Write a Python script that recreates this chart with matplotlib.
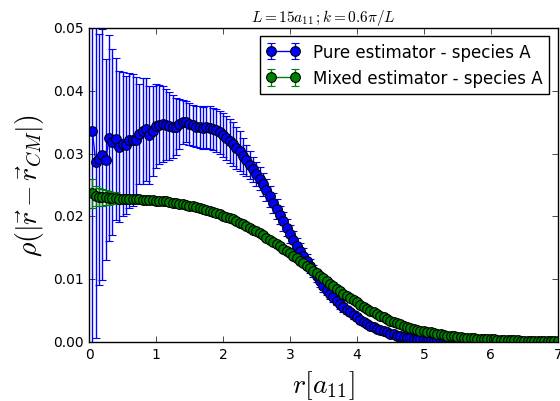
import matplotlib
matplotlib.use("Agg")
import matplotlib.pyplot as plt

plt.style.use("classic")

r = [0.05, 0.10, 0.15, 0.20, 0.25, 0.30, 0.35, 0.40, 0.45, 0.50,
     0.55, 0.60, 0.65, 0.70, 0.75, 0.80, 0.85, 0.90, 0.95, 1.00,
     1.05, 1.10, 1.15, 1.20, 1.25, 1.30, 1.35, 1.40, 1.45, 1.50,
     1.55, 1.60, 1.65, 1.70, 1.75, 1.80, 1.85, 1.90, 1.95, 2.00,
     2.05, 2.10, 2.15, 2.20, 2.25, 2.30, 2.35, 2.40, 2.45, 2.50,
     2.55, 2.60, 2.65, 2.70, 2.75, 2.80, 2.85, 2.90, 2.95, 3.00,
     3.05, 3.10, 3.15, 3.20, 3.25, 3.30, 3.35, 3.40, 3.45, 3.50,
     3.55, 3.60, 3.65, 3.70, 3.75, 3.80, 3.85, 3.90, 3.95, 4.00,
     4.05, 4.10, 4.15, 4.20, 4.25, 4.30, 4.35, 4.40, 4.45, 4.50,
     4.55, 4.60, 4.65, 4.70, 4.75, 4.80, 4.85, 4.90, 4.95, 5.00,
     5.05, 5.10, 5.15, 5.20, 5.25, 5.30, 5.35, 5.40, 5.45, 5.50,
     5.55, 5.60, 5.65, 5.70, 5.75, 5.80, 5.85, 5.90, 5.95, 6.00,
     6.05, 6.10, 6.15, 6.20, 6.25, 6.30, 6.35, 6.40, 6.45, 6.50,
     6.55, 6.60, 6.65, 6.70, 6.75, 6.80, 6.85, 6.90, 6.95, 7.00]

pure = [0.0336, 0.0286, 0.0291, 0.0298, 0.0290, 0.0325, 0.0318, 0.0323, 0.0311, 0.0315,
        0.0314, 0.0321, 0.0322, 0.0322, 0.0331, 0.0336, 0.0339, 0.0330, 0.0336, 0.0344,
        0.0346, 0.0347, 0.0346, 0.0344, 0.0343, 0.0343, 0.0347, 0.0350, 0.0351, 0.0347,
        0.0345, 0.0343, 0.0342, 0.0341, 0.0342, 0.0341, 0.0339, 0.0337, 0.0334, 0.0330,
        0.0325, 0.0320, 0.0315, 0.0309, 0.0304, 0.0296, 0.0289, 0.0282, 0.0275, 0.0268,
        0.0260, 0.0251, 0.0242, 0.0232, 0.0221, 0.0211, 0.0202, 0.0192, 0.0182, 0.0172,
        0.0163, 0.0153, 0.0145, 0.0137, 0.0129, 0.0121, 0.0113, 0.0105, 0.0097, 0.0089,
        0.0083, 0.0077, 0.0071, 0.0065, 0.0060, 0.0055, 0.0051, 0.0047, 0.0043, 0.0039,
        0.0035, 0.0032, 0.0029, 0.0026, 0.0023, 0.0021, 0.0019, 0.0017, 0.0015, 0.0013,
        0.0012, 0.0010, 0.0009, 0.0008, 0.0007, 0.0006, 0.0005, 0.0005, 0.0004, 0.0004,
        0.0003, 0.0003, 0.0002, 0.0002, 0.0002, 0.0001, 0.0001, 0.0001, 0.0001, 0.0001,
        0.0001, 0.0001, 0.0001, 0.0000, 0.0000, 0.0000, 0.0000, 0.0000, 0.0000, 0.0000,
        0.0000, 0.0000, 0.0000, 0.0000, 0.0000, 0.0000, 0.0000, 0.0000, 0.0000, 0.0000,
        0.0000, 0.0000, 0.0000, 0.0000, 0.0000, 0.0000, 0.0000, 0.0000, 0.0000, 0.0000]

pure_err = [0.0400, 0.0280, 0.0200, 0.0200, 0.0160, 0.0164, 0.0148, 0.0129, 0.0120, 0.0115,
            0.0110, 0.0108, 0.0105, 0.0100, 0.0080, 0.0085, 0.0082, 0.0078, 0.0072, 0.0067,
            0.0063, 0.0060, 0.0057, 0.0054, 0.0050, 0.0046, 0.0040, 0.0035, 0.0033, 0.0033,
            0.0033, 0.0033, 0.0033, 0.0033, 0.0033, 0.0034, 0.0034, 0.0034, 0.0034, 0.0035,
            0.0035, 0.0035, 0.0035, 0.0034, 0.0032, 0.0028, 0.0025, 0.0022, 0.0020, 0.0019,
            0.0018, 0.0018, 0.0017, 0.0017, 0.0016, 0.0016, 0.0015, 0.0015, 0.0014, 0.0014,
            0.0013, 0.0013, 0.0012, 0.0012, 0.0011, 0.0011, 0.0010, 0.0010, 0.0009, 0.0009,
            0.0008, 0.0008, 0.0008, 0.0007, 0.0007, 0.0007, 0.0006, 0.0006, 0.0006, 0.0005,
            0.0005, 0.0005, 0.0004, 0.0004, 0.0004, 0.0004, 0.0003, 0.0003, 0.0003, 0.0003,
            0.0002, 0.0002, 0.0002, 0.0002, 0.0002, 0.0002, 0.0001, 0.0001, 0.0001, 0.0001,
            0.0001, 0.0001, 0.0001, 0.0001, 0.0001, 0.0001, 0.0001, 0.0001, 0.0001, 0.0001,
            0.0000, 0.0000, 0.0000, 0.0000, 0.0000, 0.0000, 0.0000, 0.0000, 0.0000, 0.0000,
            0.0000, 0.0000, 0.0000, 0.0000, 0.0000, 0.0000, 0.0000, 0.0000, 0.0000, 0.0000,
            0.0000, 0.0000, 0.0000, 0.0000, 0.0000, 0.0000, 0.0000, 0.0000, 0.0000, 0.0000]

mixed = [0.0237, 0.0233, 0.0231, 0.0230, 0.0230, 0.0229, 0.0229, 0.0229, 0.0228, 0.0228,
         0.0228, 0.0227, 0.0227, 0.0227, 0.0227, 0.0226, 0.0226, 0.0226, 0.0226, 0.0225,
         0.0225, 0.0224, 0.0224, 0.0223, 0.0222, 0.0221, 0.0220, 0.0219, 0.0218, 0.0217,
         0.0216, 0.0215, 0.0213, 0.0212, 0.0210, 0.0209, 0.0207, 0.0205, 0.0203, 0.0201,
         0.0199, 0.0197, 0.0195, 0.0193, 0.0190, 0.0188, 0.0185, 0.0182, 0.0179, 0.0176,
         0.0173, 0.0170, 0.0166, 0.0163, 0.0159, 0.0156, 0.0152, 0.0148, 0.0145, 0.0141,
         0.0137, 0.0133, 0.0129, 0.0125, 0.0121, 0.0117, 0.0113, 0.0109, 0.0105, 0.0101,
         0.0097, 0.0093, 0.0089, 0.0085, 0.0081, 0.0077, 0.0073, 0.0070, 0.0066, 0.0063,
         0.0059, 0.0056, 0.0053, 0.0050, 0.0047, 0.0044, 0.0041, 0.0039, 0.0036, 0.0034,
         0.0032, 0.0030, 0.0028, 0.0026, 0.0024, 0.0022, 0.0021, 0.0019, 0.0018, 0.0017,
         0.0016, 0.0015, 0.0014, 0.0013, 0.0012, 0.0011, 0.0010, 0.0010, 0.0009, 0.0008,
         0.0008, 0.0007, 0.0007, 0.0006, 0.0006, 0.0005, 0.0005, 0.0005, 0.0004, 0.0004,
         0.0004, 0.0003, 0.0003, 0.0003, 0.0003, 0.0003, 0.0003, 0.0003, 0.0002, 0.0002,
         0.0002, 0.0002, 0.0002, 0.0002, 0.0002, 0.0002, 0.0002, 0.0001, 0.0001, 0.0001]

mixed_err = [0.0023, 0.0016, 0.0014, 0.0013, 0.0012, 0.0011, 0.0010, 0.0009, 0.0008, 0.0008,
             0.0007, 0.0006, 0.0005, 0.0005, 0.0004, 0.0004, 0.0003, 0.0003, 0.0002, 0.0002,
             0.0002, 0.0001, 0.0001, 0.0001, 0.0001, 0.0001, 0.0001, 0.0001, 0.0001, 0.0001] + [0.0001] * 110

title = r'$L=15a_{11}\,;k=0.6\pi/L$'
xlabel = r'$r[a_{11}]$'
ylabel = r'$\rho(|\vec{r}-\vec{r}_{CM}|)$'
labels = ['Pure estimator - species A', 'Mixed estimator - species A']

fig = plt.figure(figsize=(5.6, 4.02), dpi=100)
ax = fig.add_axes([0.159, 0.147, 0.837, 0.781])

ax.errorbar(r, pure, yerr=pure_err, fmt='o-', color='b', ecolor='b',
            mec='k', mew=0.8, ms=7, lw=1, capsize=3, label=labels[0])
ax.errorbar(r, mixed, yerr=mixed_err, fmt='o-', color='g', ecolor='g',
            mec='k', mew=0.8, ms=7, lw=1, capsize=3, label=labels[1])

ax.set_xlim(0, 7)
ax.set_ylim(0, 0.05)
ax.set_xticks([0, 1, 2, 3, 4, 5, 6, 7])
ax.set_yticks([0.00, 0.01, 0.02, 0.03, 0.04, 0.05])
ax.set_yticklabels(['0.00', '0.01', '0.02', '0.03', '0.04', '0.05'])
ax.tick_params(labelsize=10)
ax.set_title(title, fontsize=11, pad=5)
ax.set_xlabel(xlabel, fontsize=20)
ax.set_ylabel(ylabel, fontsize=20)
ax.legend(loc='upper right', numpoints=2, fontsize=12)

fig.savefig('out.png', dpi=100)
